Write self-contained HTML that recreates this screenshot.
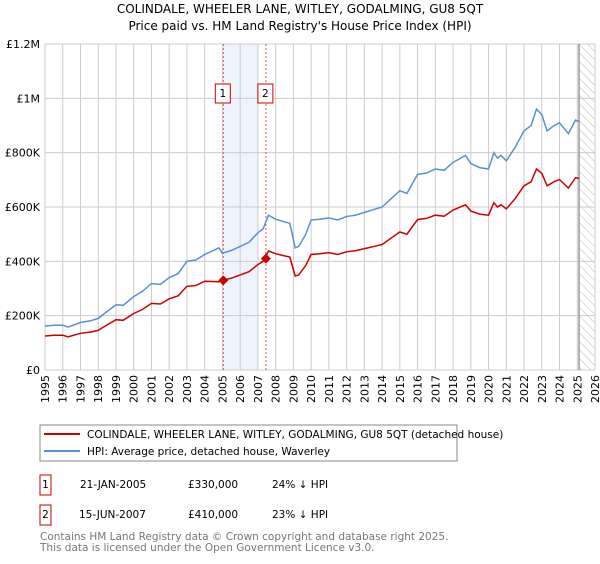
<!DOCTYPE html>
<html><head><meta charset="utf-8"><style>
body{margin:0;background:#fff;font-family:"DejaVu Sans","Liberation Sans",sans-serif;}
svg text{font-family:"DejaVu Sans","Liberation Sans",sans-serif;}
</style></head><body>
<svg id="chart" width="600" height="560" viewBox="0 0 600 560" xmlns="http://www.w3.org/2000/svg">
<defs><pattern id="hatch" patternUnits="userSpaceOnUse" width="6" height="6" patternTransform="rotate(-45)"><line x1="0" y1="0" x2="0" y2="6" stroke="#bbb" stroke-width="1"/></pattern></defs>
<text x="300" y="13" font-size="12" text-anchor="middle">COLINDALE, WHEELER LANE, WITLEY, GODALMING, GU8 5QT</text>
<text x="300" y="30" font-size="12" text-anchor="middle">Price paid vs. HM Land Registry's House Price Index (HPI)</text>
<g id="grid"></g><g id="marks"></g><g id="axes"></g>
<rect x="40" y="425" width="417" height="36" fill="#fff" stroke="#888"/>
<line x1="44" y1="434" x2="80" y2="434" stroke="#cc0000" stroke-width="2"/>
<text x="87" y="438" font-size="10.5">COLINDALE, WHEELER LANE, WITLEY, GODALMING, GU8 5QT (detached house)</text>
<line x1="44" y1="451" x2="80" y2="451" stroke="#5b8fd4" stroke-width="2"/>
<text x="87" y="455" font-size="10.5">HPI: Average price, detached house, Waverley</text>
<g font-size="10.5">
<rect x="40" y="475" width="11" height="20" fill="none" stroke="#cc0000"/>
<text x="45.5" y="488" text-anchor="middle">1</text>
<text x="80" y="488">21-JAN-2005</text><text x="188" y="488">£330,000</text><text x="272" y="488">24% ↓ HPI</text></g>
<g font-size="10.5">
<rect x="40" y="505" width="11" height="20" fill="none" stroke="#cc0000"/>
<text x="45.5" y="518" text-anchor="middle">2</text>
<text x="79" y="518">15-JUN-2007</text><text x="188" y="518">£410,000</text><text x="272" y="518">23% ↓ HPI</text></g>
<text x="40" y="540" font-size="10.5" fill="#777">Contains HM Land Registry data © Crown copyright and database right 2025.</text>
<text x="40" y="551" font-size="10.5" fill="#777">This data is licensed under the Open Government Licence v3.0.</text>
</svg>
<script>
const hpiYears=[1995,1995.5,1996,1996.3,1997,1997.6,1998,1998.4,1999,1999.4,2000,2000.5,2001,2001.5,2002,2002.5,2003,2003.5,2004,2004.8,2005,2005.5,2006,2006.5,2007,2007.3,2007.6,2008,2008.5,2008.8,2009.1,2009.3,2009.7,2010,2010.5,2011,2011.5,2012,2012.5,2013,2013.5,2014,2014.5,2015,2015.4,2016,2016.5,2017,2017.5,2018,2018.3,2018.7,2019,2019.5,2020,2020.3,2020.5,2020.7,2021,2021.5,2022,2022.4,2022.7,2023,2023.3,2023.7,2024,2024.5,2024.9,2025.1];
const hpiValues=[162000,165000,165000,158000,175000,182000,190000,210000,240000,238000,270000,290000,318000,315000,340000,355000,400000,405000,425000,450000,430000,440000,455000,470000,505000,520000,570000,555000,545000,540000,450000,455000,500000,552000,555000,560000,552000,565000,570000,580000,590000,600000,630000,660000,650000,720000,725000,740000,735000,765000,775000,790000,760000,745000,740000,800000,780000,790000,770000,820000,880000,900000,960000,940000,880000,900000,910000,870000,920000,915000];
const ppValues=[125000,128000,128000,122000,135000,140000,146000,162000,185000,183000,208000,223000,245000,243000,262000,273000,308000,311000,327000,325000,330000,338000,350000,362000,388000,400000,438000,428000,420000,416000,346000,350000,385000,425000,428000,432000,425000,435000,439000,447000,454000,462000,485000,508000,500000,554000,558000,570000,566000,589000,597000,608000,585000,574000,570000,616000,600000,608000,593000,631000,678000,693000,740000,724000,678000,693000,701000,670000,708000,705000];
const saleDates=[2005.05,2007.45];
const salePrices=[330000,410000];
const yTicks=[0,200000,400000,600000,800000,1000000,1200000];
const yTickLabels=["£0","£200K","£400K","£600K","£800K","£1M","£1.2M"];
const xTicks=[1995,1996,1997,1998,1999,2000,2001,2002,2003,2004,2005,2006,2007,2008,2009,2010,2011,2012,2013,2014,2015,2016,2017,2018,2019,2020,2021,2022,2023,2024,2025,2026];
const X0=45,X1=595,Y0=370,Y1=44;
const xs=t=>X0+(t-1995)/31*(X1-X0);
const ys=v=>Y0-v/1200000*(Y0-Y1);
const NS="http://www.w3.org/2000/svg";
function mk(tag,attrs,parent){const e=document.createElementNS(NS,tag);for(const k in attrs)e.setAttribute(k,attrs[k]);parent.appendChild(e);return e;}
const grid=document.getElementById('grid'),marks=document.getElementById('marks'),axes=document.getElementById('axes');
let r=mk('rect',{x:xs(2005.05),y:Y1,width:xs(2007.0)-xs(2005.05),height:Y0-Y1,fill:'#eef3fc'},grid);


let h=mk('rect',{x:xs(2025.1),y:Y1,width:X1-xs(2025.1),height:Y0-Y1,fill:'url(#hatch)'},grid);


xTicks.forEach(t=>{const l=mk('line',{x1:xs(t),x2:xs(t),y1:Y1,y2:Y0,stroke:'#ccc'},grid);


const tx=mk('text',{x:0,y:0,'font-size':11,'text-anchor':'end',transform:`translate(${xs(t)+4},${Y0+5}) rotate(-90)`},axes);tx.textContent=t;

});
yTicks.forEach((v,i)=>{const l=mk('line',{x1:X0,x2:X1,y1:ys(v),y2:ys(v),stroke:'#ccc'},grid);


const tx=mk('text',{x:X0-5,y:ys(v)+4,'font-size':11,'text-anchor':'end'},axes);tx.textContent=yTickLabels[i];

});
let vl=mk('line',{x1:xs(2025.1),x2:xs(2025.1),y1:Y1,y2:Y0,stroke:'#999','stroke-width':1.5},grid);


saleDates.forEach((d,i)=>{const l=mk('line',{x1:xs(d),x2:xs(d),y1:Y1,y2:Y0,stroke:'#e05555','stroke-dasharray':'2,2'},marks);


const b=mk('rect',{x:xs(d)-8,y:84,width:15,height:19,fill:'#fff',stroke:'#cc0000'},marks);


const t=mk('text',{x:xs(d)-0.5,y:97,'font-size':10.5,'text-anchor':'middle'},marks);t.textContent=i+1;

});
const path=vals=>vals.map((v,i)=>(i?'L':'M')+xs(hpiYears[i]).toFixed(1)+','+ys(v).toFixed(1)).join('');
let hp=mk('path',{d:path(hpiValues),fill:'none',stroke:'#5b8fd4','stroke-width':1.5},marks);


let pp=mk('path',{d:path(ppValues),fill:'none',stroke:'#cc0000','stroke-width':1.5},marks);


saleDates.forEach((d,i)=>{const x=xs(d),y=ys(salePrices[i]);const p=mk('polygon',{points:`${x},${y-5} ${x+5},${y} ${x},${y+5} ${x-5},${y}`,fill:'#cc0000'},marks);

});
</script>
</body></html>
